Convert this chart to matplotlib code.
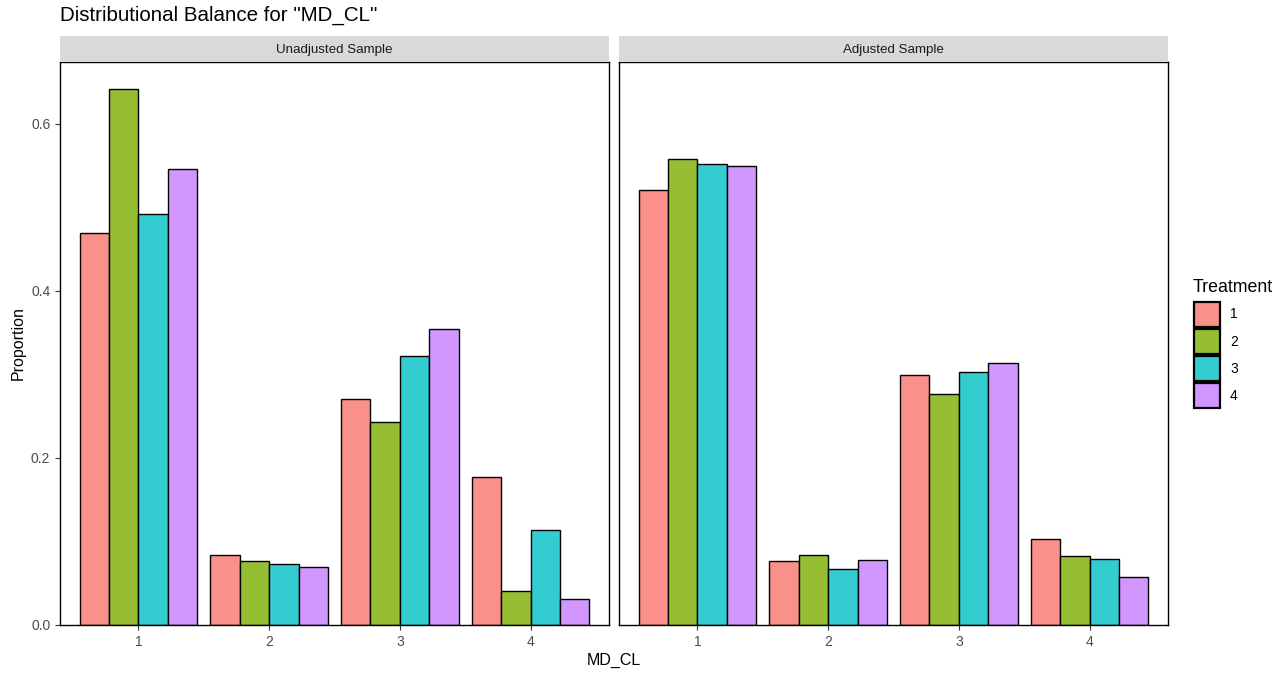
import matplotlib
matplotlib.use("Agg")
import matplotlib.pyplot as plt
import numpy as np
from matplotlib.patches import Rectangle

categories = ["1", "2", "3", "4"]
treatments = ["1", "2", "3", "4"]
panels = ["Unadjusted Sample", "Adjusted Sample"]

# proportions[treatment] per category
unadjusted = {
    "1": [0.469, 0.084, 0.271, 0.177],
    "2": [0.642, 0.077, 0.243, 0.041],
    "3": [0.492, 0.073, 0.322, 0.114],
    "4": [0.546, 0.069, 0.354, 0.031],
}
adjusted = {
    "1": [0.521, 0.077, 0.299, 0.103],
    "2": [0.558, 0.084, 0.277, 0.083],
    "3": [0.552, 0.067, 0.303, 0.079],
    "4": [0.550, 0.078, 0.314, 0.057],
}
colors = ["#F9918A", "#96BE33", "#33CCD0", "#D296FF"]

W, H = 1284, 673
plt.rcParams['font.family'] = ['Liberation Sans', 'DejaVu Sans']
fig = plt.figure(figsize=(W / 100, H / 100), dpi=100)

def ax_rect(x0, x1, y0, y1):
    return [x0 / W, 1 - y1 / H, (x1 - x0) / W, (y1 - y0) / H]

panel_x = [(60, 609), (619, 1168)]
top, bottom = 62, 625
strip_top = 36

x = np.arange(len(categories)) + 1
bw = 0.9 / 4
for pi, (name, data) in enumerate(zip(panels, [unadjusted, adjusted])):
    x0, x1 = panel_x[pi]
    ax = fig.add_axes(ax_rect(x0, x1, top, bottom))
    for ti, t in enumerate(treatments):
        ax.bar(x - 0.45 + bw * (ti + 0.5), data[t], width=bw, color=colors[ti],
               edgecolor="black", linewidth=1.0, zorder=2)
    ax.set_xlim(0.4, 4.6)
    ax.set_ylim(0, 0.674)
    ax.set_xticks(x)
    ax.set_xticklabels(categories)
    ax.set_yticks([0.0, 0.2, 0.4, 0.6])
    ax.set_yticklabels(["0.0", "0.2", "0.4", "0.6"])
    ax.tick_params(axis="both", colors="#333333", labelcolor="#4D4D4D", labelsize=10,
                   length=3.5, width=0.8)
    for s in ax.spines.values():
        s.set_color("black")
        s.set_linewidth(1.0)
    if pi == 1:
        ax.tick_params(axis="y", left=False, labelleft=False)
    # strip
    sax = fig.add_axes(ax_rect(x0, x1, strip_top, top))
    sax.set_facecolor("#D9D9D9")
    for s in sax.spines.values():
        s.set_visible(False)
    sax.set_xticks([])
    sax.set_yticks([])
    sax.set_xlim(0, 1)
    sax.set_ylim(top, strip_top)
    sax.text(0.5, 50, name, ha="center", va="center", fontsize=9.6,
             color="#1A1A1A")

fig.text(60 / W, 1 - 15 / H, 'Distributional Balance for "MD_CL"', fontsize=14.8,
         ha="left", va="center", color="black")
fig.text(614 / W, 1 - 660 / H, "MD_CL", fontsize=11.5, ha="center", va="center")
fig.text(18 / W, 1 - 343 / H, "Proportion", fontsize=11.5, ha="center", va="center",
         rotation=90)

# legend (manual, ggplot style)
fig.text(1193 / W, 1 - 287 / H, "Treatment", fontsize=12.8, ha="left", va="center")
key_w, key_h, step = 26, 25, 27
for ti, t in enumerate(treatments):
    ytop = 302 + ti * step
    fig.patches.append(Rectangle((1194 / W, 1 - (ytop + key_h) / H), key_w / W, key_h / H,
                                 transform=fig.transFigure, facecolor=colors[ti],
                                 edgecolor="black", linewidth=1.6))
    fig.text(1230 / W, 1 - (ytop + key_h / 2) / H, t, fontsize=10, ha="left",
             va="center", color="black")

fig.savefig("out.png", dpi=100, facecolor="white")
